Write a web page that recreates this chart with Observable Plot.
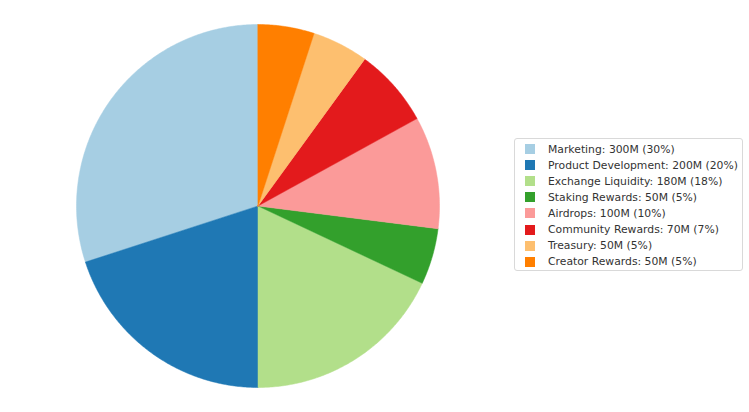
<!DOCTYPE html>
<html>
<head>
<meta charset="utf-8">
<script src="https://cdn.jsdelivr.net/npm/d3@7"></script>
<script src="https://cdn.jsdelivr.net/npm/@observablehq/plot@0.6"></script>
<style>
  html, body { margin: 0; padding: 0; background: #fff; }
  #wrap { position: relative; width: 749px; height: 412px; font-family: "DejaVu Sans", sans-serif; }
  #legend { position: absolute; left: 514px; top: 138px; width: 229px; height: 133px; padding: 2px 0 0 0;
    border: 1px solid #d9d9d9; border-radius: 3px; background: rgba(255,255,255,0.8); box-sizing: border-box; }
  .row { display: flex; align-items: center; height: 16.1px; font-size: 10.8px; color: #333; white-space: nowrap; }
  .sw { width: 10px; height: 10px; margin-left: 10px; margin-right: 13px; flex: none; }
</style>
</head>
<body>
<div id="wrap"></div>
<script>
const categories = ["Marketing", "Product Development", "Exchange Liquidity", "Staking Rewards",
  "Airdrops", "Community Rewards", "Treasury", "Creator Rewards"];
const amounts = [300, 200, 180, 50, 100, 70, 50, 50]; // millions
const colors = ["#a6cee3", "#1f78b4", "#b2df8a", "#33a02c", "#fb9a99", "#e31a1c", "#fdbf6f", "#ff7f00"];

const total = d3.sum(amounts);
const labels = categories.map((c, i) => `${c}: ${amounts[i]}M (${Math.round(amounts[i] / total * 100)}%)`);

// Build slice outlines (start at top, counterclockwise like matplotlib startangle=90)
const pts = [];
let acc = 0;
categories.forEach((c, i) => {
  const a0 = Math.PI / 2 + (acc / total) * 2 * Math.PI;
  acc += amounts[i];
  const a1 = Math.PI / 2 + (acc / total) * 2 * Math.PI;
  pts.push({cat: c, x: 0, y: 0});
  const n = Math.max(8, Math.ceil((a1 - a0) / 0.01));
  for (let k = 0; k <= n; k++) {
    const a = a0 + (a1 - a0) * k / n;
    pts.push({cat: c, x: Math.cos(a), y: Math.sin(a)});
  }
});

const cx = 257.5, cy = 205.5, r = 181.5;
const chart = Plot.plot({
  width: 749, height: 412,
  margin: 0,
  x: {domain: [-1, 1], range: [cx - r, cx + r], axis: null},
  y: {domain: [-1, 1], range: [cy + r, cy - r], axis: null},
  color: {domain: categories, range: colors},
  marks: [
    Plot.line(pts, {x: "x", y: "y", z: "cat", fill: "cat", stroke: "cat", strokeWidth: 0.5, curve: "linear-closed"})
  ]
});
const wrap = document.getElementById("wrap");
wrap.appendChild(chart);

const legend = document.createElement("div");
legend.id = "legend";
categories.forEach((c, i) => {
  const row = document.createElement("div");
  row.className = "row";
  const sw = document.createElement("span");
  sw.className = "sw";
  sw.style.background = colors[i];
  const t = document.createElement("span");
  t.textContent = labels[i];
  row.appendChild(sw); row.appendChild(t);
  legend.appendChild(row);
});
wrap.appendChild(legend);
</script>
</body>
</html>
